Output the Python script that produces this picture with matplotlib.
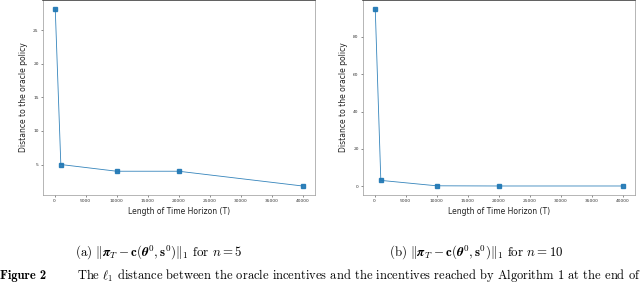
import matplotlib
matplotlib.use("Agg")
import matplotlib.pyplot as plt

# data
horizon = [100, 1000, 10000, 20000, 40000]
dist_n5 = [28.2, 5.0, 4.0, 4.0, 1.8]
dist_n10 = [95.0, 3.2, 0.3, 0.2, 0.2]
xticks = [0, 5000, 10000, 15000, 20000, 25000, 30000, 35000, 40000]
yticks_n5 = [5, 10, 15, 20, 25]
yticks_n10 = [0, 20, 40, 60, 80]

plt.rcParams["mathtext.fontset"] = "cm"

fig = plt.figure(figsize=(6.4, 2.93), dpi=100)
ax_a = fig.add_axes([0.067, 0.335, 0.425, 0.665])
ax_b = fig.add_axes([0.567, 0.335, 0.425, 0.665])

for ax, y, yt in [(ax_a, dist_n5, yticks_n5), (ax_b, dist_n10, yticks_n10)]:
    ax.plot(horizon, y, color="#1f77b4", lw=0.6, marker="s", ms=2.2, alpha=0.9)
    ax.set_xticks(xticks)
    ax.set_yticks(yt)
    ax.tick_params(labelsize=3.2, length=1.5, width=0.4, pad=1.5, colors="#333333")
    ax.set_xlabel("Length of Time Horizon (T)", fontsize=5.5, labelpad=3, color="#222222")
    ax.set_ylabel("Distance to the oracle policy", fontsize=5.5, labelpad=4, color="#222222")
    for s in ["left", "bottom", "right"]:
        ax.spines[s].set_linewidth(0.5)
        ax.spines[s].set_color("#999999")
    ax.spines["top"].set_linewidth(1.2)
    ax.spines["top"].set_color("#444444")

cap = r"$\|\boldsymbol{\pi}_T - \mathbf{c}(\boldsymbol{\theta}^0, \mathbf{s}^0)\|_1$"
fig.text(0.117, 1 - 253 / 293, "(a) " + cap + " for $n = 5$", fontsize=9.3,
         family="cmr10", va="center")
fig.text(0.608, 1 - 253 / 293, "(b) " + cap + " for $n = 10$", fontsize=9.3,
         family="cmr10", va="center")
fig.text(0.0, 1 - 276 / 293, "Figure 2", fontsize=9.0, family="cmb10", va="center")
fig.text(0.121, 1 - 276 / 293,
         r"The $\ell_1$ distance between the oracle incentives and the incentives reached by Algorithm 1 at the end of",
         fontsize=9.0, family="cmr10", va="center")

fig.savefig("out.png", dpi=100)
